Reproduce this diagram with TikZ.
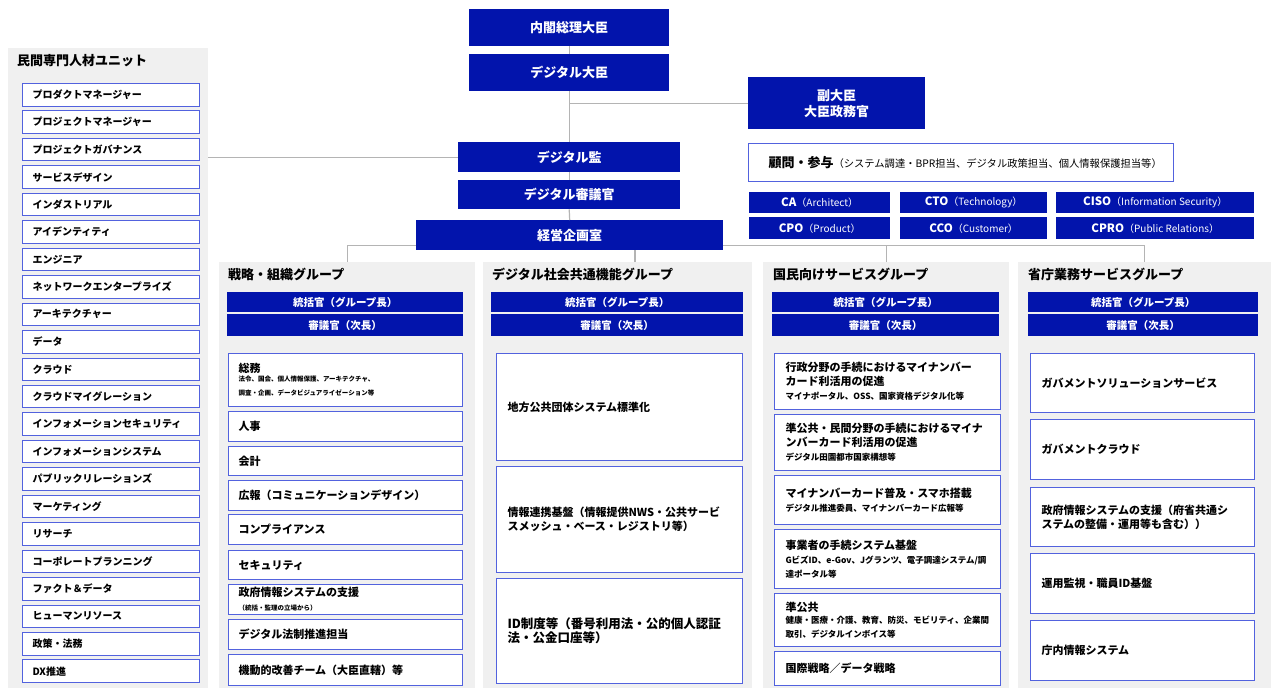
\documentclass[tikz,border=0pt]{standalone}
\usepackage{fontspec}
\setmainfont{Noto Sans CJK JP}
\usetikzlibrary{calc}
\definecolor{dblue}{RGB}{2,20,172}
\definecolor{bborder}{RGB}{82,98,222}
\definecolor{pgray}{RGB}{240,240,240}
\definecolor{cgray}{RGB}{180,180,180}
\newcommand{\fA}{\bfseries\fontsize{11}{14}\selectfont}
\newcommand{\fS}{\bfseries\fontsize{6.5}{9}\selectfont}
\newcommand{\fT}{\bfseries\fontsize{8.5}{11.5}\selectfont}
\newcommand{\fTT}{\bfseries\fontsize{8.5}{13.5}\selectfont}
\newcommand{\fL}{\bfseries\fontsize{12.5}{17}\selectfont}
\newcommand{\fC}{\bfseries\fontsize{11.5}{13}\selectfont}
\newcommand{\fP}{\mdseries\fontsize{10}{12}\selectfont}
\def\padx{10}
\newcommand{\cbx}[7][]{%
  \pgfmathsetmacro{\myw}{#5-#3}\pgfmathsetmacro{\myh}{#6-#4}%
  \node[anchor=north west,inner sep=0pt,minimum width=\myw pt,minimum height=\myh pt,#1] (#2) at (#3,#4) {#7};}
\newcommand{\lbx}[7][]{%
  \pgfmathsetmacro{\myw}{#5-#3}\pgfmathsetmacro{\myh}{#6-#4}\pgfmathsetmacro{\mytw}{#5-#3-2*\padx}%
  \node[anchor=north west,inner ysep=0pt,inner xsep=\padx pt,text width=\mytw pt,minimum height=\myh pt,align=left,#1] (#2) at (#3,#4) {#7};}
\tikzset{
  dbox/.style={fill=dblue,text=white,font=\bfseries\fontsize{13}{16}\selectfont,align=center},
  bar/.style={fill=dblue,text=white,font=\bfseries\fontsize{10.5}{12}\selectfont},
  cbox/.style={fill=dblue,text=white},
  wbox/.style={fill=white,draw=bborder,line width=1pt},
  item/.style={wbox,font=\bfseries\fontsize{10}{12}\selectfont},
  gitem/.style={wbox,font=\fA},
  panel/.style={fill=pgray},
  conn/.style={draw=cgray,line width=1.2pt},
  gtitle/.style={anchor=west,inner sep=0pt,font=\bfseries\fontsize{13}{15}\selectfont},
}
\begin{document}
\begin{tikzpicture}[x=1pt,y=-1pt]
\useasboundingbox (0,0) rectangle (1271,688);
\fill[white] (0,0) rectangle (1271,688);

% panels
\cbx[panel]{lp}{8}{48}{208}{688}{}
\cbx[panel]{p1}{219}{262}{475}{688}{}
\cbx[panel]{p2}{483}{262}{752}{688}{}
\cbx[panel]{p3}{763}{262}{1009}{688}{}
\cbx[panel]{p4}{1018}{262}{1271}{688}{}

\node[gtitle] (lpt) at (17,61) {民間専門人材ユニット};
\node[gtitle] (p1t) at (228,274) {戦略・組織グループ};
\node[gtitle] (p2t) at (492,274) {デジタル社会共通機能グループ};
\node[gtitle] (p3t) at (773,274) {国民向けサービスグループ};
\node[gtitle] (p4t) at (1028,274) {省庁業務サービスグループ};

% top chain
\cbx[dbox]{pm}{469}{9}{669}{46}{内閣総理大臣}
\cbx[dbox]{dm}{469}{54}{669}{91}{デジタル大臣}
\cbx[dbox]{vm}{748}{77}{925}{129}{副大臣\\大臣政務官}
\cbx[dbox]{dk}{458}{142}{680}{172}{デジタル監}
\cbx[dbox]{ds}{458}{180}{680}{209}{デジタル審議官}
\cbx[dbox]{kk}{416}{220}{723}{250}{経営企画室}

\def\padx{20}
\lbx[wbox]{adv}{748}{143}{1173}{181}{{\bfseries\fontsize{13}{15}\selectfont 顧問・参与}{\mdseries\fontsize{10.3}{12}\selectfont （システム調達・BPR担当、デジタル政策担当、個人情報保護担当等）}}

\cbx[cbox]{ca}{749}{192}{890}{213}{\fC CA\fP （Architect）}
\cbx[cbox]{cto}{900}{192}{1047}{213}{\fC CTO\fP （Technology）}
\cbx[cbox]{ciso}{1056}{192}{1254}{213}{\fC CISO\fP （Information Security）}
\cbx[cbox]{cpo}{749}{217}{890}{239}{\fC CPO\fP （Product）}
\cbx[cbox]{cco}{900}{217}{1047}{239}{\fC CCO\fP （Customer）}
\cbx[cbox]{cpro}{1056}{217}{1254}{239}{\fC CPRO\fP （Public Relations）}

% left unit items
\def\padx{10}
\foreach \t [count=\i from 0] in {プロダクトマネージャー,
  プロジェクトマネージャー,
  プロジェクトガバナンス,
  サービスデザイン,
  インダストリアル,
  アイデンティティ,
  エンジニア,
  ネットワークエンタープライズ,
  アーキテクチャー,
  データ,
  クラウド,
  クラウドマイグレーション,
  インフォメーションセキュリティ,
  インフォメーションシステム,
  パブリックリレーションズ,
  マーケティング,
  リサーチ,
  コーポレートプランニング,
  ファクト＆データ,
  ヒューマンリソース,
  政策・法務,
  DX推進}{
  \pgfmathsetmacro{\yt}{83+\i*27.45}
  \pgfmathsetmacro{\yb}{\yt+22.5}
  \lbx[item]{li\i}{22}{\yt}{199}{\yb}{\t}
}

% bars
\cbx[bar]{g1a}{227}{292}{463}{312}{統括官（グループ長）}
\cbx[bar]{g1b}{227}{314}{463}{336}{審議官（次長）}
\cbx[bar]{g2a}{491}{292}{743}{312}{統括官（グループ長）}
\cbx[bar]{g2b}{491}{314}{743}{336}{審議官（次長）}
\cbx[bar]{g3a}{772}{292}{999}{312}{統括官（グループ長）}
\cbx[bar]{g3b}{772}{314}{999}{336}{審議官（次長）}
\cbx[bar]{g4a}{1028}{292}{1258}{312}{統括官（グループ長）}
\cbx[bar]{g4b}{1028}{314}{1258}{336}{審議官（次長）}

% group 1
\def\padx{10}
\lbx[gitem]{b11}{228}{353}{462}{406}{\fA 総務\par\fS 法令、国会、個人情報保護、アーキテクチャ、\\調査・企画、データビジュアライゼーション等}
\lbx[gitem]{b12}{228}{411}{462}{441}{人事}
\lbx[gitem]{b13}{228}{446}{462}{475}{会計}
\lbx[gitem]{b14}{228}{480}{462}{510}{広報（コミュニケーションデザイン）}
\lbx[gitem]{b15}{228}{514}{462}{544}{コンプライアンス}
\lbx[gitem]{b16}{228}{550}{462}{579}{セキュリティ}
\lbx[gitem]{b17}{228}{584}{462}{614}{\fA 政府情報システムの支援\par\fS （統括・監理の立場から）}
\lbx[gitem]{b18}{228}{619}{462}{649}{デジタル法制推進担当}
\lbx[gitem]{b19}{228}{654}{462}{685}{機動的改善チーム（大臣直轄）等}

% group 2
\def\padx{11}
\lbx[gitem]{b21}{496}{353}{742}{460}{地方公共団体システム標準化}
\lbx[gitem]{b22}{496}{466}{742}{572}{情報連携基盤（情報提供NWS・公共サービ\\スメッシュ・ベース・レジストリ等）}
\lbx[gitem]{b23}{496}{578}{742}{683}{\fL ID制度等（番号利用法・公的個人認証\\法・公金口座等）}

% group 3
\def\padx{11}
\lbx[gitem]{b31}{774}{353}{1000}{409}{\fA 行政分野の手続におけるマイナンバー\\カード利活用の促進\par\fT マイナポータル、OSS、国家資格デジタル化等}
\lbx[gitem]{b32}{774}{414}{1000}{470}{\fA 準公共・民間分野の手続におけるマイナ\\ンバーカード利活用の促進\par\fT デジタル田園都市国家構想等}
\lbx[gitem]{b33}{774}{475}{1000}{524}{\fA マイナンバーカード普及・スマホ搭載\par\fT デジタル推進委員、マイナンバーカード広報等}
\lbx[gitem]{b34}{774}{529}{1000}{588}{\fA 事業者の手続システム基盤\par\fTT \mbox{GビズID、e-Gov、Jグランツ、電子調達システム/調}\\達ポータル等}
\lbx[gitem]{b35}{774}{593}{1000}{646}{\fA 準公共\par\fT 健康・医療・介護、教育、防災、モビリティ、企業間\\取引、デジタルインボイス等}
\lbx[gitem]{b36}{774}{651}{1000}{685}{国際戦略／データ戦略}

% group 4
\def\padx{11}
\lbx[gitem]{b41}{1030}{353}{1254}{412}{ガバメントソリューションサービス}
\lbx[gitem]{b42}{1030}{419}{1254}{479}{ガバメントクラウド}
\lbx[gitem]{b43}{1030}{487}{1254}{546}{政府情報システムの支援（府省共通シ\\ステムの整備・運用等も含む））}
\lbx[gitem]{b44}{1030}{553}{1254}{613}{運用監視・職員ID基盤}
\lbx[gitem]{b45}{1030}{620}{1254}{680}{庁内情報システム}

% connectors
\draw[conn] (pm.south) -- (dm.north);
\draw[conn] (dm.south) -- (dk.north);
\draw[conn] (vm.west) -- (vm.west -| dm.south);
\draw[conn] (dk.south) -- (ds.north);
\draw[conn] (ds.south) -- (kk.north);
\draw[conn] (lp.east |- dk.west) -- (dk.west);
\coordinate (kl) at ($(kk.south west)+(0,-5)$);
\coordinate (kr) at ($(kk.south east)+(0,-5)$);
\draw[conn] (kl) -| (p1.north);
\draw[conn] (kr) -| (p4.north);
\draw[conn] (kr -| p3.north) -- (p3.north);
\coordinate (p2c) at (635,262);
\draw[conn] (p2c) -- (p2c |- kk.south);
\end{tikzpicture}
\end{document}
